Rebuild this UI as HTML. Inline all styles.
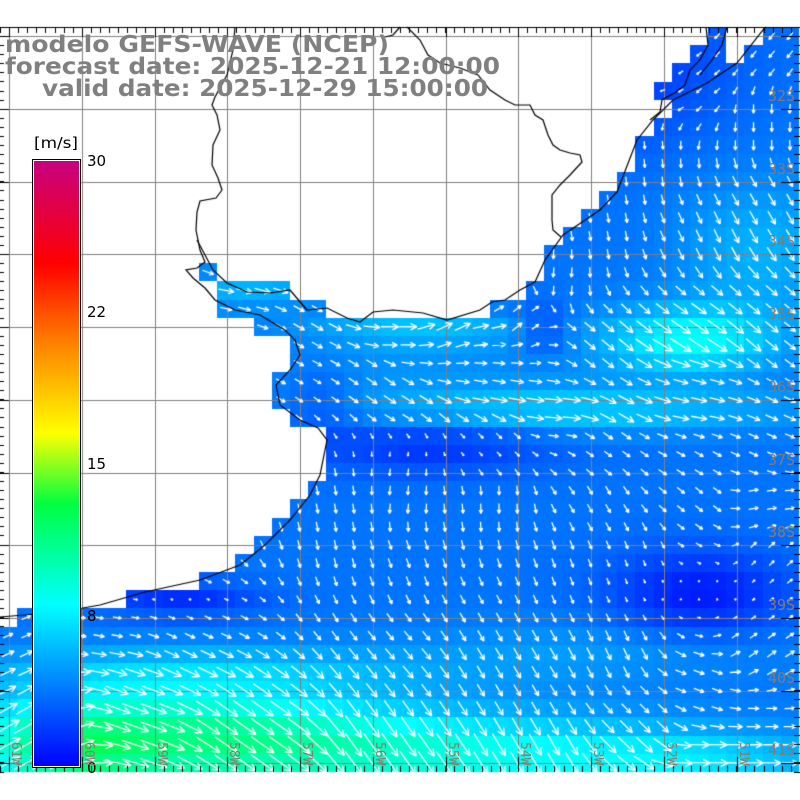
<!DOCTYPE html>
<html><head><meta charset="utf-8">
<style>
html,body{margin:0;padding:0;background:#fff;width:800px;height:800px;overflow:hidden}
#c{position:absolute;left:0;top:0}
svg{position:absolute;left:0;top:0}
</style></head><body>
<canvas id="c" width="800" height="800"></canvas>
<svg width="800" height="800" xmlns="http://www.w3.org/2000/svg">
<defs><linearGradient id="cb" x1="0" y1="1" x2="0" y2="0">
<stop offset="0" stop-color="#0000ff"/>
<stop offset="0.1333" stop-color="#0080ff"/>
<stop offset="0.2667" stop-color="#00ffff"/>
<stop offset="0.4333" stop-color="#00ff40"/>
<stop offset="0.55" stop-color="#ffff00"/>
<stop offset="0.70" stop-color="#ff8000"/>
<stop offset="0.83" stop-color="#ff0000"/>
<stop offset="1" stop-color="#c8007f"/>
</linearGradient></defs>
<g font-family="DejaVu Sans, Liberation Sans, sans-serif" font-weight="bold" font-size="23" fill="#808080">
<text x="5" y="52" textLength="384" lengthAdjust="spacingAndGlyphs">modelo GEFS-WAVE (NCEP)</text>
<text x="5" y="74" textLength="495" lengthAdjust="spacingAndGlyphs">forecast date: 2025-12-21 12:00:00</text>
<text x="42" y="96" textLength="446" lengthAdjust="spacingAndGlyphs">valid date: 2025-12-29 15:00:00</text>
</g>
<rect x="32.5" y="159.5" width="48" height="608" fill="#fff" stroke="#000" stroke-width="1"/>
<rect x="34" y="161" width="45" height="605" fill="url(#cb)"/>
<g font-family="DejaVu Sans, Liberation Sans, sans-serif" font-size="15" fill="#000">
<text x="34" y="148" textLength="44" lengthAdjust="spacingAndGlyphs">[m/s]</text>
<text x="87" y="166">30</text>
<text x="87" y="317">22</text>
<text x="87" y="469">15</text>
<text x="87" y="621">8</text>
<text x="87" y="773">0</text>
</g>
<g font-family="DejaVu Sans Mono, Liberation Mono, monospace" font-size="15" fill="#8a7a6a" id="lat"></g>
<g font-family="DejaVu Sans Mono, Liberation Mono, monospace" font-size="13" fill="#8a7a6a" id="lon"></g>
</svg>
<script>
(function(){
var cv=document.getElementById('c'),ctx=cv.getContext('2d');
ctx.fillStyle='#fff';ctx.fillRect(0,0,800,800);
var W=800/44,H=(772-27)/41;
var R={0:[[708,727],[763,800]],1:[[690,727],[745,800]],2:[[673,800]],3:[[655,800]],4:[[673,800]],5:[[655,800]],6:[[637,800]],7:[[637,800]],8:[[618,800]],9:[[600,800]],10:[[582,800]],11:[[563,800]],12:[[545,800]],13:[[200,218],[545,800]],14:[[218,290],[527,800]],15:[[218,327],[492,800]],16:[[255,800]],17:[[290,800]],18:[[290,800]],19:[[273,800]],20:[[273,800]],21:[[290,800]],22:[[327,800]],23:[[327,800]],24:[[327,800]],25:[[309,800]],26:[[290,800]],27:[[272,800]],28:[[254,800]],29:[[236,800]],30:[[200,800]],31:[[127,800]],32:[[18,800]]};
function ocean(r,x0,x1){var rr=R[r];if(!rr)return true;for(var i=0;i<rr.length;i++){if(x0>=rr[i][0]-4&&x1<=rr[i][1]+4)return true;}return false;}
function G(x,y,cx,cy,sx,sy){var a=(x-cx)/sx,b=(y-cy)/sy;return Math.exp(-a*a-b*b);}
function spd(x,y){var s=3.6
+6.5*G(x,y,180,738,190,55)+4*G(x,y,60,750,80,45)+4.5*G(x,y,450,755,230,45)+2.5*G(x,y,700,760,140,30)
+2*G(x,y,200,670,260,25)+1.2*G(x,y,600,650,200,30)
+4.5*G(x,y,690,340,85,35)+3*G(x,y,560,410,230,22)+2.5*G(x,y,420,330,120,18)+2*G(x,y,250,290,80,20)
+2*G(x,y,760,250,80,70)+1*G(x,y,400,370,200,25)
-2.2*G(x,y,600,60,120,80)-2*G(x,y,430,445,120,30)-2.8*G(x,y,700,595,90,45)
-2.2*G(x,y,180,600,80,18)-1.8*G(x,y,545,330,25,25)-1.3*G(x,y,320,400,40,40);
return Math.max(0.5,s);}
var stops=[[0,0,0,255],[4,0,128,255],[8,0,255,255],[13,0,255,64],[16.5,255,255,0],[21,255,128,0],[25,255,0,0],[30,200,0,127]];
function col(s){for(var i=1;i<stops.length;i++){if(s<=stops[i][0]){var a=stops[i-1],b=stops[i],t=(s-a[0])/(b[0]-a[0]);return 'rgb('+Math.round(a[1]+t*(b[1]-a[1]))+','+Math.round(a[2]+t*(b[2]-a[2]))+','+Math.round(a[3]+t*(b[3]-a[3]))+')';}}return 'rgb(200,0,127)';}
var A=[[40,650,-25],[40,720,-30],[100,640,10],[130,700,20],[200,650,25],[250,720,35],[400,650,50],[400,740,55],[500,650,60],[540,740,60],[620,650,65],[650,720,45],[700,690,20],[760,740,0],[700,760,0],[760,640,-35],[760,560,-45],[700,560,30],[640,560,70],[560,560,70],[400,560,70],[350,520,80],[400,500,95],[500,500,90],[600,500,60],[700,500,40],[760,500,-10],[400,455,100],[500,455,45],[600,455,35],[700,455,30],[760,455,25],[400,420,30],[560,420,5],[700,420,10],[380,380,35],[500,380,10],[700,380,15],[300,330,30],[400,340,0],[500,340,-5],[450,320,-25],[520,320,-40],[600,340,40],[700,330,35],[760,330,40],[250,300,15],[230,290,10],[210,275,20],[560,280,95],[600,230,80],[700,230,65],[760,200,60],[650,150,85],[760,120,90],[700,80,140],[600,60,150],[760,60,130],[660,90,160]];
function dir(x,y){var cx=0,cy=0;for(var i=0;i<A.length;i++){var dx=x-A[i][0],dy=y-A[i][1],w=1/(dx*dx+dy*dy+100);w=w*w;var a=A[i][2]*Math.PI/180;cx+=w*Math.cos(a);cy+=w*Math.sin(a);}return Math.atan2(cy,cx);}
var cells=[];
for(var r=0;r<41;r++){for(var c=0;c<44;c++){var x0=c*W-1,x1=x0+W,y0=27+r*H;if(!ocean(r,x0,x1))continue;var cx=x0+W/2,cy=y0+H/2,s=spd(cx,cy);ctx.fillStyle=col(s);ctx.fillRect(Math.round(x0),Math.round(y0),Math.round(x1)-Math.round(x0),Math.round(y0+H)-Math.round(y0));cells.push([cx,cy,s]);}}
ctx.strokeStyle='#808080';ctx.lineWidth=1;
for(var k=0;k<11;k++){var gx=Math.round(9+72.75*k)+0.5;ctx.beginPath();ctx.moveTo(gx,27);ctx.lineTo(gx,772);ctx.stroke();var gy=Math.round(36.3+72.7*k)+0.5;ctx.beginPath();ctx.moveTo(0,gy);ctx.lineTo(800,gy);ctx.stroke();}
ctx.strokeStyle='#fff';ctx.lineWidth=1.3;
cells.forEach(function(p){var a=dir(p[0],p[1]),L=Math.min(28,Math.max(2,3.3*p[2]-2));var dx=Math.cos(a)*L/2,dy=Math.sin(a)*L/2;var tx=p[0]+dx,ty=p[1]+dy;ctx.beginPath();ctx.moveTo(p[0]-dx,p[1]-dy);ctx.lineTo(tx,ty);var h=Math.min(8,Math.max(2,L*0.4));for(var sg=-1;sg<=1;sg+=2){var b=a+Math.PI+sg*0.45;ctx.moveTo(tx,ty);ctx.lineTo(tx+Math.cos(b)*h,ty+Math.sin(b)*h);}ctx.stroke();});
function pl(pts){ctx.beginPath();ctx.moveTo(pts[0][0],pts[0][1]);for(var i=1;i<pts.length;i++)ctx.lineTo(pts[i][0],pts[i][1]);ctx.stroke();}
ctx.strokeStyle='#000';ctx.lineWidth=1.2;
pl([[0,617],[60,612],[100,605],[145,592],[200,580],[240,565],[265,545],[290,520],[310,495],[320,475],[327,440],[318,428],[300,420],[280,405],[276,385],[290,370],[300,355],[295,340],[285,330],[260,315],[235,310],[215,300],[205,288],[193,278],[186,270],[197,268],[205,262],[200,250],[196,230],[197,212],[200,201],[216,198],[222,190],[218,178],[212,165],[213,145],[220,130],[217,115],[212,105],[215,97],[227,75],[233,50],[235,27]]);
pl([[197,240],[213,270],[227,283],[247,292],[270,293],[290,290],[307,310],[327,308],[347,318],[360,322],[373,312],[393,310],[423,313],[447,320],[480,310],[492,302],[505,300],[520,290],[535,282],[545,260],[563,235],[600,210],[617,192],[637,140],[653,120],[673,100],[707,83],[737,63],[763,30],[766,27]]);
pl([[407,27],[420,40],[428,55],[440,63],[460,68],[478,75],[490,90],[505,100],[515,105],[530,105],[535,115],[543,120],[548,135],[553,145],[560,150],[570,153],[580,155],[582,162],[570,175],[560,185],[552,195],[552,220],[553,230],[561,237]]);
pl([[400,27],[393,35],[385,37]]);
pl([[706,27],[708,45],[700,60],[690,70],[685,85],[676,92],[662,100],[660,112],[650,120]]);
pl([[727,27],[722,45],[712,60],[700,75]]);
ctx.lineWidth=1;
ctx.beginPath();ctx.moveTo(0,27.5);ctx.lineTo(800,27.5);ctx.stroke();
for(var x=0;x<=800;x+=9.09){var xx=Math.round(x)+0.5;ctx.beginPath();ctx.moveTo(xx,27);ctx.lineTo(xx,33);ctx.moveTo(xx,772);ctx.lineTo(xx,766);ctx.stroke();}
for(var k=0;k<11;k++){var gx=Math.round(9+72.75*k)+0.5;ctx.beginPath();ctx.moveTo(gx,27);ctx.lineTo(gx,37);ctx.moveTo(gx,772);ctx.lineTo(gx,757);ctx.stroke();}
for(var y=27;y<=772;y+=9.08){var yy=Math.round(y)+0.5;ctx.beginPath();ctx.moveTo(0,yy);ctx.lineTo(4,yy);ctx.moveTo(800,yy);ctx.lineTo(794,yy);ctx.stroke();}
for(var k=0;k<11;k++){var gy=Math.round(36.3+72.7*k)+0.5;ctx.beginPath();ctx.moveTo(0,gy);ctx.lineTo(9,gy);ctx.moveTo(800,gy);ctx.lineTo(781,gy);ctx.stroke();}
var NS='http://www.w3.org/2000/svg',lat=document.getElementById('lat'),lon=document.getElementById('lon');
for(var k=1;k<11;k++){var t=document.createElementNS(NS,'text');t.setAttribute('x',768);t.setAttribute('y',Math.round(36.3+72.7*k)-8);t.textContent=(31+k)+'S';lat.appendChild(t);}
for(var k=0;k<11;k++){var gx=Math.round(9+72.75*k)+3;var t=document.createElementNS(NS,'text');t.setAttribute('transform','translate('+gx+',742) rotate(90)');t.setAttribute('x',0);t.setAttribute('y',0);t.textContent=(61-k)+'W';lon.appendChild(t);}
})();
</script>
</body></html>
